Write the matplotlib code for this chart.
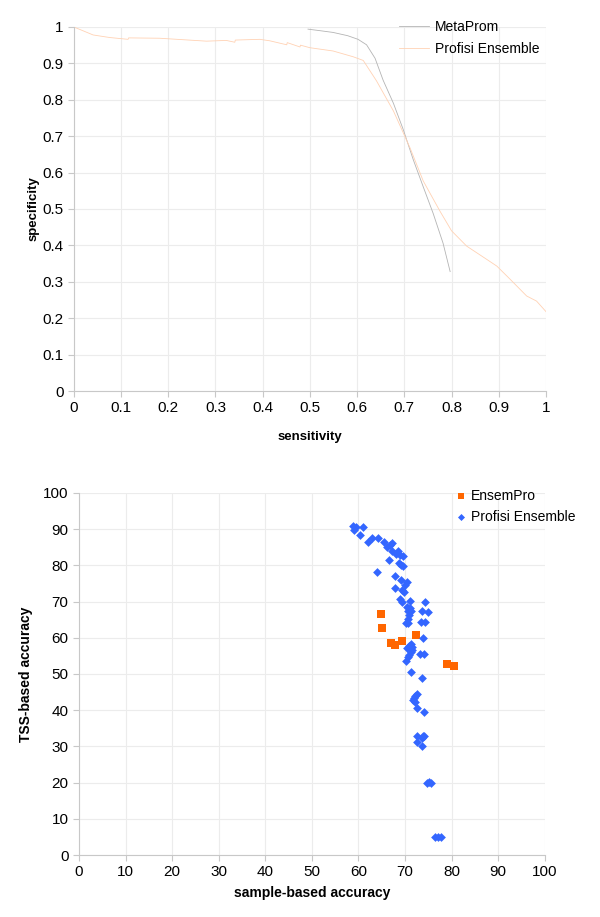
import numpy as np
import matplotlib
matplotlib.use("Agg")
import matplotlib.pyplot as plt

plt.rcParams['font.family'] = ['Liberation Sans', 'DejaVu Sans']

# ROC-like curves (sensitivity, specificity)
metaprom_x = [0.496, 0.52, 0.549, 0.58, 0.602, 0.620, 0.638, 0.655, 0.677, 0.698,
              0.719, 0.740, 0.761, 0.782, 0.797]
metaprom_y = [0.994, 0.990, 0.985, 0.976, 0.966, 0.951, 0.914, 0.854, 0.790, 0.717,
              0.635, 0.561, 0.488, 0.406, 0.328]

profisi_x = [0.0, 0.041, 0.076, 0.115, 0.116, 0.182, 0.281, 0.323, 0.341, 0.342,
             0.394, 0.415, 0.451, 0.452, 0.479, 0.480, 0.500, 0.549, 0.592, 0.613,
             0.641, 0.677, 0.712, 0.740, 0.775, 0.800, 0.832, 0.874, 0.896, 0.924,
             0.959, 0.980, 1.0]
profisi_y = [1.0, 0.978, 0.971, 0.966, 0.970, 0.969, 0.961, 0.963, 0.958, 0.964,
             0.966, 0.962, 0.951, 0.957, 0.945, 0.950, 0.943, 0.934, 0.918, 0.908,
             0.852, 0.769, 0.668, 0.577, 0.495, 0.440, 0.398, 0.362, 0.343, 0.307,
             0.261, 0.247, 0.218]

# sample-based vs TSS-based accuracy
ensempro_x = [64.8, 65.1, 67.0, 67.9, 69.3, 72.3, 79.1, 80.6]
ensempro_y = [66.7, 62.8, 58.5, 57.9, 59.2, 60.9, 52.7, 52.1]

prof_x = [58.8, 59.0, 59.5, 60.9, 60.4, 62.0, 62.9, 64.2, 65.4, 66.1, 66.7, 67.3,
          67.2, 68.1, 68.5, 68.9, 69.5, 66.6, 68.7, 69.2, 69.5, 63.9, 67.8, 69.1,
          70.0, 70.4, 67.9, 69.4, 69.7, 68.9, 69.4, 71.0, 74.4, 70.4, 71.1, 70.7,
          71.4, 73.6, 75.0, 70.9, 70.7, 70.3, 70.6, 73.5, 74.4, 73.9, 71.2, 70.8,
          71.5, 70.5, 71.6, 71.3, 70.8, 70.7, 70.3, 73.3, 74.0, 71.4, 73.6, 72.5,
          72.2, 71.9, 71.8, 72.2, 72.6, 74.0, 72.5, 73.9, 74.2, 73.6, 72.6, 73.7,
          75.1, 75.5, 74.8, 76.5, 77.2, 77.8]
prof_y = [90.9, 89.8, 90.5, 90.5, 88.4, 86.5, 87.7, 87.5, 86.5, 85.2, 85.7, 86.2,
          84.1, 83.2, 83.9, 82.9, 82.5, 81.4, 80.6, 80.1, 79.7, 78.3, 77.1, 75.9,
          74.7, 75.4, 73.7, 73.2, 72.6, 70.7, 70.0, 70.3, 70.0, 68.5, 68.2, 67.3,
          67.4, 67.3, 67.0, 66.2, 65.3, 64.2, 64.0, 64.5, 64.5, 60.0, 58.3, 57.8,
          57.4, 57.1, 56.6, 56.1, 55.2, 54.6, 53.6, 55.5, 55.5, 50.6, 48.8, 44.6,
          44.0, 43.5, 42.8, 42.3, 40.6, 39.6, 32.9, 32.8, 33.0, 32.3, 31.1, 30.1,
          20.3, 19.9, 19.9, 4.9, 4.9, 5.1]

fig = plt.figure(figsize=(6, 9.17), dpi=100)


def style_axes(ax):
    for s in ['top', 'right']:
        ax.spines[s].set_visible(False)
    for s in ['left', 'bottom']:
        ax.spines[s].set_color('#c8c8c8')
        ax.spines[s].set_linewidth(0.8)
    ax.grid(True, color='#ececec', linewidth=0.8)
    ax.set_axisbelow(True)
    ax.tick_params(colors='#c8c8c8', labelcolor='black', labelsize=11,
                   length=4, width=0.8)


# top plot
ax1 = fig.add_axes([0.123, 0.5736, 0.787, 0.397])
ax1.plot(metaprom_x, metaprom_y, color='#b4b4b4', lw=0.6, label='MetaProm')
ax1.plot(profisi_x, profisi_y, color='#ffd2b4', lw=0.6, label='Profisi Ensemble')
ax1.set_xlim(0, 1)
ax1.set_ylim(0, 1)
ticks = np.round(np.arange(0, 1.01, 0.1), 1)
labels = ['0' if t == 0 else ('1' if t == 1 else str(t)) for t in ticks]
ax1.set_xticks(ticks)
ax1.set_xticklabels(labels)
ax1.set_yticks(ticks)
ax1.set_yticklabels(labels)
style_axes(ax1)
ax1.set_xlabel('sensitivity', fontweight='bold', fontsize=9.5, labelpad=11)
ax1.set_ylabel('specificity', fontweight='bold', fontsize=9.5)
ax1.yaxis.set_label_coords(-0.072, 0.5)
ax1.legend(loc='upper left', bbox_to_anchor=(0.655, 0.984), bbox_transform=fig.transFigure,
           frameon=False, fontsize=10, handlelength=2.2, handletextpad=0.4,
           labelspacing=0.55, borderaxespad=0)

# bottom plot
ax2 = fig.add_axes([0.1317, 0.0676, 0.776, 0.3948])
ax2.scatter(ensempro_x, ensempro_y, marker='s', s=32, color='#ff6600',
            linewidths=0, label='EnsemPro', zorder=3)
ax2.scatter(prof_x, prof_y, marker='D', s=20, color='#3366ff',
            linewidths=0, label='Profisi Ensemble', zorder=3)
ax2.set_xlim(0, 100)
ax2.set_ylim(0, 100)
ax2.set_xticks(range(0, 101, 10))
ax2.set_yticks(range(0, 101, 10))
style_axes(ax2)
ax2.set_xlabel('sample-based accuracy', fontweight='bold', fontsize=10, labelpad=5)
ax2.set_ylabel('TSS-based accuracy', fontweight='bold', fontsize=10, labelpad=7)
ax2.legend(loc='upper left', bbox_to_anchor=(0.75, 0.473), bbox_transform=fig.transFigure,
           frameon=False, fontsize=10, handlelength=0.8, handletextpad=0.3,
           labelspacing=0.5, borderaxespad=0, markerscale=0.8)

fig.savefig('out.png', dpi=100)
